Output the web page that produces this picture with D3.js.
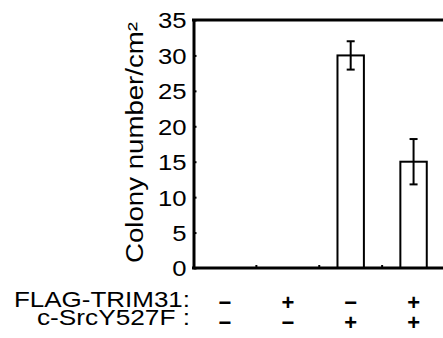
<!DOCTYPE html>
<html>
<head>
<meta charset="utf-8">
<script src="https://cdn.jsdelivr.net/npm/d3@7"></script>
<style>
  body { margin: 0; background: #fff; }
  svg { font-family: "Liberation Sans", Arial, sans-serif; }
</style>
</head>
<body>
<svg id="chart" width="443" height="338"></svg>
<script>
const conditions = ['c1', 'c2', 'c3', 'c4'];
const colonies = [0, 0, 30, 15];
const errors = [0, 0, 2, 3.2];
const yTicks = [0, 5, 10, 15, 20, 25, 30, 35];
const trimRow = ['\u2212', '+', '\u2212', '+'];
const srcRow = ['\u2212', '\u2212', '+', '+'];
const rowLabels = ['FLAG-TRIM31:', 'c-SrcY527F :'];

const svg = d3.select('#chart');
const m = { left: 193.5, right: 445, top: 20, bottom: 268 };

const x = d3.scaleBand(conditions, [m.left, m.right])
  .paddingInner(0.58)
  .paddingOuter(0.29);
const y = d3.scaleLinear([0, 35], [m.bottom, m.top]);
const step = x.step();

const rowsData = colonies.map((v, i) => ({ k: conditions[i], v, e: errors[i] }));

// bars
svg.append('g')
  .selectAll('rect')
  .data(rowsData.filter(d => d.v > 0))
  .join('rect')
  .attr('x', d => x(d.k))
  .attr('y', d => y(d.v))
  .attr('width', x.bandwidth())
  .attr('height', d => y(0) - y(d.v))
  .attr('fill', '#fff')
  .attr('stroke', '#000')
  .attr('stroke-width', 2);

// error bars
const eb = svg.append('g')
  .selectAll('g')
  .data(rowsData.filter(d => d.e > 0))
  .join('g')
  .attr('stroke', '#000')
  .attr('stroke-width', 2);
eb.append('line')
  .attr('x1', d => x(d.k) + x.bandwidth() / 2)
  .attr('x2', d => x(d.k) + x.bandwidth() / 2)
  .attr('y1', d => y(d.v + d.e))
  .attr('y2', d => y(d.v - d.e));
[1, -1].forEach(s => {
  eb.append('line')
    .attr('x1', d => x(d.k) + x.bandwidth() / 2 - 4)
    .attr('x2', d => x(d.k) + x.bandwidth() / 2 + 4)
    .attr('y1', d => y(d.v + s * d.e))
    .attr('y2', d => y(d.v + s * d.e));
});

// y axis
const yAxis = svg.append('g')
  .attr('transform', `translate(${m.left},0)`)
  .call(d3.axisLeft(y).tickValues(yTicks).tickSizeInner(-3).tickSizeOuter(0).tickPadding(7));
yAxis.select('.domain').attr('stroke-width', 3);
yAxis.selectAll('.tick line').attr('stroke-width', 2);
yAxis.selectAll('.tick text')
  .attr('font-size', 22)
  .attr('fill', '#000')
  .attr('dy', '0.36em')
  .attr('textLength', d => String(d).length * 14.3)
  .attr('lengthAdjust', 'spacingAndGlyphs');

// frame: top and bottom lines
svg.append('line')
  .attr('x1', m.left - 1.5).attr('x2', m.right)
  .attr('y1', y(35)).attr('y2', y(35))
  .attr('stroke', '#000').attr('stroke-width', 3);
svg.append('line')
  .attr('x1', m.left - 1.5).attr('x2', m.right)
  .attr('y1', y(0)).attr('y2', y(0))
  .attr('stroke', '#000').attr('stroke-width', 3);

// small separators between conditions
svg.append('g')
  .selectAll('line')
  .data(conditions.slice(1))
  .join('line')
  .attr('x1', d => x(d) + x.bandwidth() / 2 - step / 2)
  .attr('x2', d => x(d) + x.bandwidth() / 2 - step / 2)
  .attr('y1', y(0))
  .attr('y2', y(0) - 3)
  .attr('stroke', '#000')
  .attr('stroke-width', 2);

// y label
svg.append('text')
  .attr('transform', `translate(143,142.5) rotate(-90)`)
  .attr('text-anchor', 'middle')
  .attr('font-size', 23)
  .attr('textLength', 241)
  .attr('lengthAdjust', 'spacingAndGlyphs')
  .text('Colony number/cm\u00b2');

// condition table
const rows = [trimRow, srcRow];
const labelY = [307, 325];
const labelLen = [176, 153];
const signY = [309.5, 330];
rows.forEach((row, r) => {
  svg.append('text')
    .attr('x', 190)
    .attr('y', labelY[r])
    .attr('text-anchor', 'end')
    .attr('font-size', 21.5)
    .attr('textLength', labelLen[r])
    .attr('lengthAdjust', 'spacingAndGlyphs')
    .text(rowLabels[r]);
  svg.append('g')
    .selectAll('text')
    .data(row)
    .join('text')
    .attr('x', (d, i) => x(conditions[i]) + x.bandwidth() / 2)
    .attr('y', signY[r])
    .attr('text-anchor', 'middle')
    .attr('font-size', 22)
    .attr('font-weight', 'bold')
    .text(d => d);
});
</script>
</body>
</html>
